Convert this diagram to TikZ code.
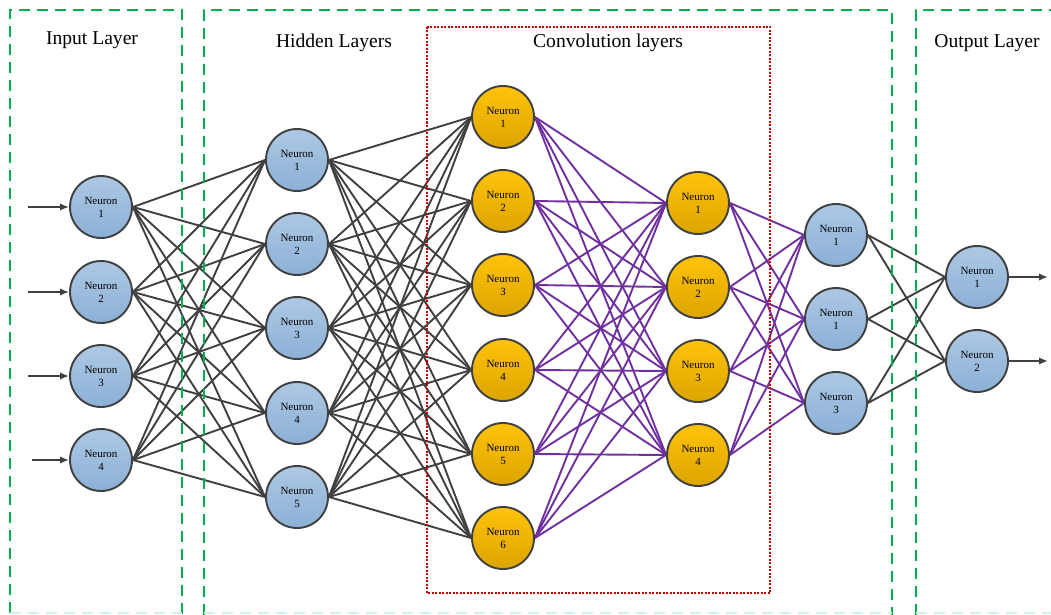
\documentclass[tikz,border=0pt]{standalone}
\usepackage{fontspec}
\setmainfont{Liberation Serif}
\usetikzlibrary{arrows.meta}
\pgfdeclarelayer{bg}
\pgfsetlayers{bg,main}
\definecolor{gboxc}{HTML}{00B050}
\definecolor{gboxfaint}{HTML}{D2F2E6}
\definecolor{rboxc}{HTML}{C00000}
\definecolor{wirec}{HTML}{404040}
\definecolor{purplec}{HTML}{7030A0}
\definecolor{bluetop}{HTML}{ADC8E4}
\definecolor{bluebot}{HTML}{8CB0D6}
\definecolor{orangetop}{HTML}{FFC30A}
\definecolor{orangebot}{HTML}{DCA500}
\tikzset{
  neuronbase/.style={circle, minimum size=62pt, inner sep=0pt, draw=wirec, line width=1.9pt,
    align=center, font=\fontsize{11}{13}\selectfont},
  neuronblue/.style={neuronbase, top color=bluetop, bottom color=bluebot},
  neuronorange/.style={neuronbase, top color=orangetop, bottom color=orangebot},
  wire/.style={draw=wirec, line width=1.9pt},
  purplewire/.style={draw=purplec, line width=1.9pt},
  greenbox/.style={draw=gboxc, line width=2.2pt, dash pattern=on 11pt off 7pt},
  greenfaint/.style={draw=gboxfaint, line width=2.2pt, dash pattern=on 11pt off 7pt},
  redbox/.style={draw=rboxc, line width=1.5pt, dash pattern=on 2pt off 1.5pt},
  title/.style={font=\fontsize{19.6}{22}\selectfont, inner sep=0pt},
  inarrow/.style={wire, -{Latex[length=9pt,width=7.5pt]}}
}
\begin{document}
\begin{tikzpicture}[x=1pt,y=-1pt]
\useasboundingbox (0,0) rectangle (1051,615);
\clip (0,0) rectangle (1051,615);

% boxes
\draw[greenbox] (10,613) -- (10,10) -- (182,10) -- (182,615);
\draw[greenfaint] (10,613) -- (182,613);
\draw[greenbox] (204,615) -- (204,10) -- (892,10) -- (892,615);
\draw[greenfaint] (204,613) -- (892,613);
\draw[greenbox] (916,615) -- (916,10) -- (1070,10);
\draw[greenfaint] (916,613) -- (1070,613);
\draw[redbox] (427,27) rectangle (770,593);

% titles
\node[title] (tin) at (92,40) {Input Layer};
\node[title] (thid) at (334,43) {Hidden Layers};
\node[title] (tconv) at (608,43) {Convolution layers};
\node[title] (tout) at (987,43) {Output Layer};

% neurons
\foreach \i/\y in {1/207,2/292,3/376,4/460}
  \node[neuronblue] (in\i) at (101,\y) {Neuron\\\i};
\foreach \i/\y in {1/160,2/244,3/328,4/413,5/497}
  \node[neuronblue] (h\i) at (297,\y) {Neuron\\\i};
\foreach \i/\y in {1/117,2/201,3/285,4/370,5/454,6/538}
  \node[neuronorange] (ca\i) at (503,\y) {Neuron\\\i};
\foreach \i/\y in {1/203,2/287,3/371,4/455}
  \node[neuronorange] (cb\i) at (698,\y) {Neuron\\\i};
\foreach \i/\t/\y in {1/1/235,2/1/319,3/3/403}
  \node[neuronblue] (hr\i) at (836,\y) {Neuron\\\t};
\foreach \i/\y in {1/277,2/361}
  \node[neuronblue] (out\i) at (977,\y) {Neuron\\\i};

% connectors
\begin{pgfonlayer}{bg}
\foreach \i in {1,...,4} \foreach \j in {1,...,5}
  \draw[wire] (in\i.east) -- (h\j.west);
\foreach \i in {1,...,5} \foreach \j in {1,...,6}
  \draw[wire] (h\i.east) -- (ca\j.west);
\foreach \i in {1,...,6} \foreach \j in {1,...,4}
  \draw[purplewire] (ca\i.east) -- (cb\j.west);
\foreach \i in {1,...,4} \foreach \j in {1,...,3}
  \draw[purplewire] (cb\i.east) -- (hr\j.west);
\foreach \i in {1,...,3} \foreach \j in {1,2}
  \draw[wire] (hr\i.east) -- (out\j.west);
\end{pgfonlayer}

% input / output arrows
\coordinate (s1) at (28,207);
\coordinate (s2) at (28,292);
\coordinate (s3) at (28,376);
\coordinate (s4) at (32,460);
\foreach \i in {1,...,4}
  \draw[inarrow] (s\i) -- (in\i.west);
\coordinate (e1) at (1048,277);
\coordinate (e2) at (1048,361);
\foreach \i in {1,2}
  \draw[inarrow] (out\i.east) -- (e\i);
\end{tikzpicture}
\end{document}
